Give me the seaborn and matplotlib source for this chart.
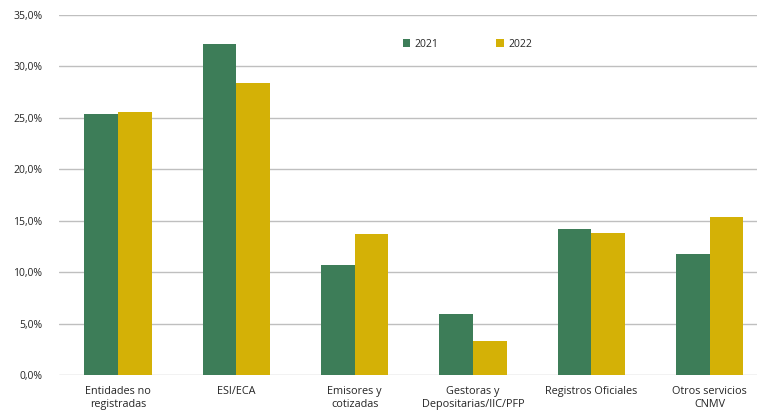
import matplotlib
matplotlib.use("Agg")
import matplotlib.pyplot as plt
import seaborn as sns
import pandas as pd

categories = ["Entidades no\nregistradas", "ESI/ECA", "Emisores y\ncotizadas",
              "Gestoras y\nDepositarias/IIC/PFP", "Registros Oficiales",
              "Otros servicios\nCNMV"]
years = ["2021", "2022"]
values_2021 = [25.4, 32.2, 10.7, 5.9, 14.2, 11.8]
values_2022 = [25.6, 28.4, 13.7, 3.3, 13.8, 15.4]
yticks = [0, 5, 10, 15, 20, 25, 30, 35]

df = pd.DataFrame({
    "cat": categories * 2,
    "year": [years[0]] * 6 + [years[1]] * 6,
    "val": values_2021 + values_2022,
})

sns.set_theme(style="white")
plt.rcParams["font.family"] = ["Open Sans", "DejaVu Sans"]

fig = plt.figure(figsize=(7.57, 4.17), dpi=100)
ax = fig.add_axes([59 / 757, 1 - 375 / 417, (757 - 59) / 757, 360 / 417])

sns.barplot(data=df, x="cat", y="val", hue="year", order=categories,
            hue_order=years, palette=["#3D7D58", "#D4B106"], width=0.57,
            saturation=1, ax=ax, gap=0, edgecolor="none")

ax.set_ylim(0, 35)
ax.set_xlim(-0.5, 5.4)
ax.set_yticks(yticks)
ax.set_yticklabels([f"{v:.1f}".replace(".", ",") + "%" for v in yticks],
                   fontsize=7.5, color="#262626")
ax.tick_params(axis="x", labelsize=7.8, colors="#262626", length=0, pad=8)
ax.tick_params(axis="y", length=0, pad=12)
ax.grid(axis="y", color="#BFBFBF", linewidth=1)
ax.set_axisbelow(True)
for s in ax.spines.values():
    s.set_visible(False)
ax.set_xlabel("")
ax.set_ylabel("")

leg = ax.legend(loc="upper center", bbox_to_anchor=(0.585, 0.96), ncol=2,
                frameon=False, fontsize=7.5, handlelength=0.7, handleheight=0.7,
                columnspacing=5.6, handletextpad=0.4)

fig.savefig("out.png", dpi=100)
